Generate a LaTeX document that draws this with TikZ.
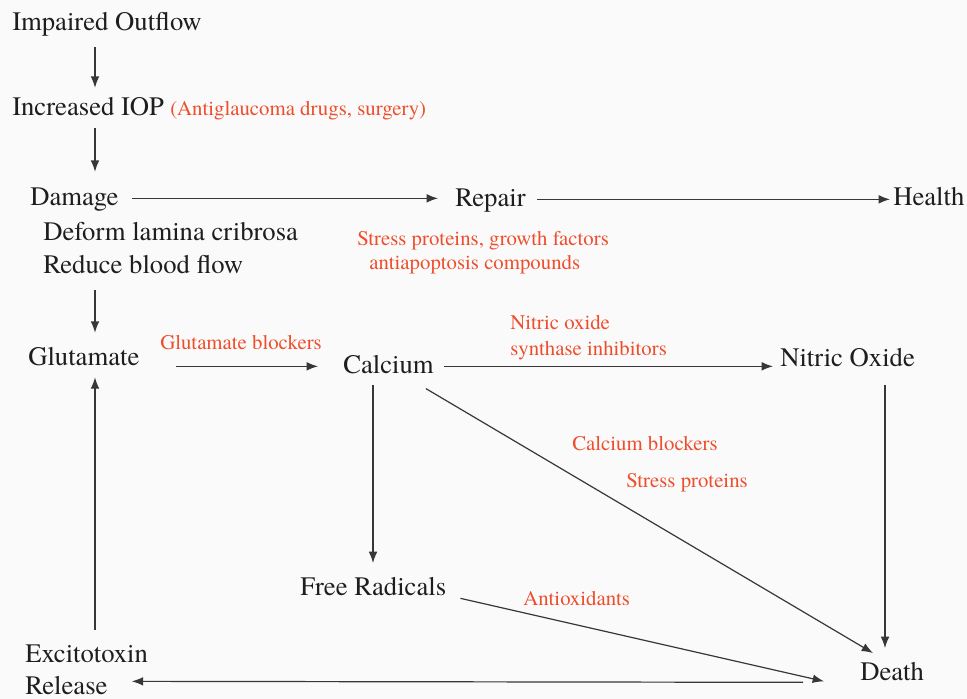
\documentclass[tikz,border=0pt]{standalone}
\usepackage{fontspec}
\setmainfont{texgyretermes}[Extension=.otf, UprightFont=*-regular, BoldFont=*-bold, ItalicFont=*-italic, BoldItalicFont=*-bolditalic]
\usetikzlibrary{arrows.meta}
\definecolor{bgc}{RGB}{250,250,250}
\definecolor{txt}{RGB}{30,30,30}
\definecolor{lnc}{RGB}{55,55,55}
\definecolor{redc}{RGB}{238,78,44}
\begin{document}
\begin{tikzpicture}[x=0.75pt,y=-0.75pt,
  lbl/.style={font=\fontsize{20}{24}\selectfont, text=txt, inner sep=0pt, text height=14pt, text depth=4pt, anchor=base west},
  note/.style={font=\fontsize{15.6}{18}\selectfont, text=redc, inner sep=0pt, anchor=base west},
  arr/.style={draw=lnc, line width=0.9pt, -{Latex[length=8.5pt,width=6.5pt]}}]
\useasboundingbox (0,0) rectangle (967,699);
\fill[bgc] (0,0) rectangle (967,699);
% nodes
\node[lbl] (io) at (12,31) {Impaired Outflow};
\node[lbl] (iop) at (12,115) {Increased IOP};
\node[note] (drug) at (170,115) {(Antiglaucoma drugs, surgery)};
\node[lbl] (dmg) at (30,205) {Damage};
\node[lbl] (rep) at (455,206) {Repair};
\node[lbl] (hlt) at (893,205) {Health};
\node[lbl] (def) at (43,240) {Deform lamina cribrosa};
\node[lbl] (red) at (43,273) {Reduce blood flow};
\node[note] (sp1) at (357,245) {Stress proteins, growth factors};
\node[note] (sp2) at (369,269) {antiapoptosis compounds};
\node[lbl] (glu) at (28,365) {Glutamate};
\node[note] (gb) at (160,349) {Glutamate blockers};
\node[lbl] (cal) at (343,373) {Calcium};
\node[note] (nos1) at (510,329) {Nitric oxide};
\node[note] (nos2) at (510,355) {synthase inhibitors};
\node[lbl] (no) at (780,366) {Nitric Oxide};
\node[note] (cb) at (572,450) {Calcium blockers};
\node[note] (sp3) at (626,487) {Stress proteins};
\node[lbl] (fr) at (300,595) {Free Radicals};
\node[note] (ao) at (523,605) {Antioxidants};
\node[lbl] (exc) at (25,662) {Excitotoxin};
\node[lbl] (rel) at (25,694) {Release};
\node[lbl] (dth) at (860,680) {Death};
% columns
\coordinate (colA) at (95,0);
\coordinate (colB) at (373,0);
\coordinate (colC) at (885,0);
% connectors
\draw[arr, shorten <=8pt, shorten >=6.2pt] (io.south -| colA) -- (iop.north -| colA);
\draw[arr, shorten <=5.8pt, shorten >=10.7pt] (iop.south -| colA) -- (dmg.north -| colA);
\draw[arr, shorten <=8.8pt, shorten >=10pt] (red.south -| colA) -- (glu.north -| colA);
\draw[arr, shorten <=10pt, shorten >=5pt] (exc.north -| colA) -- (glu.south -| colA);
\draw[arr, shorten <=9.75pt, shorten >=12.75pt] (dmg.east) -- (dmg.east -| rep.west);
\draw[arr, shorten <=8.25pt, shorten >=2.25pt] (rep.east) -- (rep.east -| hlt.west);
\draw[arr, shorten <=27pt, shorten >=18.75pt] (cal.west -| glu.east) -- (cal.west);
\draw[arr, shorten <=7.5pt, shorten >=5.25pt] (cal.east) -- (cal.east -| no.west);
\draw[arr, shorten <=4.5pt, shorten >=9.75pt] (cal.south -| colB) -- (fr.north -| colB);
\draw[arr, shorten <=9.75pt, shorten >=9.75pt] (no.south -| colC) -- (dth.north -| colC);
\draw[arr] ([shift={(-8,10)}]cal.south east) -- ([shift={(13,-8)}]dth.north west);
\draw[arr] ([shift={(14,10)}]fr.east) -- ([shift={(-36,8)}]dth.west);
\draw[arr] ([shift={(-57,9)}]dth.west) -- ([shift={(24,-6)}]rel.east);
\end{tikzpicture}
\end{document}
